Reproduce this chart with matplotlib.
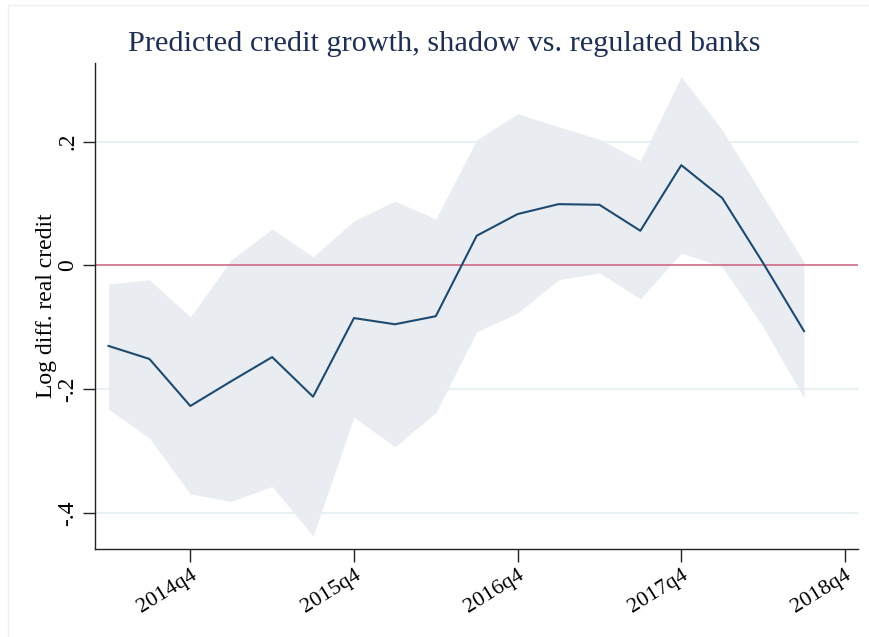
import matplotlib
matplotlib.use("Agg")
import matplotlib.pyplot as plt
from matplotlib.lines import Line2D

# Quarter index: 0 = 2014q4
quarters = ["2014q2", "2014q3", "2014q4", "2015q1", "2015q2", "2015q3", "2015q4",
            "2016q1", "2016q2", "2016q3", "2016q4", "2017q1", "2017q2", "2017q3",
            "2017q4", "2018q1", "2018q2", "2018q3"]
t = list(range(-2, 16))

predicted = [-0.130, -0.151, -0.227, -0.187, -0.148, -0.212, -0.085, -0.095, -0.082,
             0.048, 0.083, 0.099, 0.098, 0.056, 0.162, 0.109, 0.004, -0.106]
upper_ci = [-0.030, -0.023, -0.083, 0.009, 0.059, 0.014, 0.072, 0.104, 0.075,
            0.203, 0.245, 0.224, 0.204, 0.169, 0.305, 0.219, 0.112, 0.006]
lower_ci = [-0.232, -0.279, -0.369, -0.381, -0.357, -0.437, -0.245, -0.293, -0.238,
            -0.107, -0.077, -0.023, -0.012, -0.054, 0.020, -0.002, -0.099, -0.214]

xtick_pos = [0, 4, 8, 12, 16]
xtick_labels = ["2014q4", "2015q4", "2016q4", "2017q4", "2018q4"]
ytick_pos = [-0.4, -0.2, 0.0, 0.2]
ytick_labels = ["-.4", "-.2", "0", ".2"]

serif = ["Liberation Serif", "DejaVu Serif"]
plt.rcParams["font.family"] = serif

fig = plt.figure(figsize=(8.7, 6.37), dpi=100)
ax = fig.add_axes([95 / 870, 1 - 549 / 637, (858 - 95) / 870, (549 - 63) / 637])

ax.fill_between(t, lower_ci, upper_ci, color="#e9edf1", linewidth=0, zorder=1)
for y in [-0.4, -0.2, 0.2]:
    ax.axhline(y, color="#e3eef1", linewidth=1.2, zorder=0.5)
ax.axhline(0, color="#cf6b85", linewidth=1.2, zorder=2)
ax.plot(t, predicted, color="#1f4a70", linewidth=1.5, zorder=3)

ax.set_xlim(-2.33, 16.32)
ax.set_ylim(-0.458, 0.327)

for s in ["top", "right"]:
    ax.spines[s].set_visible(False)
for s in ["left", "bottom"]:
    ax.spines[s].set_linewidth(1.0)
    ax.spines[s].set_color("#222222")

ax.set_xticks(xtick_pos)
ax.set_xticklabels(xtick_labels, rotation=32, ha="right", va="top",
                   rotation_mode="anchor", fontsize=16)
ax.set_yticks(ytick_pos)
ax.set_yticklabels(ytick_labels, rotation=90, va="center", fontsize=17)
ax.tick_params(axis="both", length=9, width=1.0, color="#222222")
ax.tick_params(axis="x", pad=3)
ax.tick_params(axis="y", pad=3)

ax.set_ylabel("Log diff. real credit", fontsize=17, labelpad=0.5)

fig.text(444 / 870, 1 - 44 / 637, "Predicted credit growth, shadow vs. regulated banks",
         ha="center", va="center", fontsize=21.8, color="#1e2f52")

# faint outer border of graph region
fig.add_artist(Line2D([8 / 870, 8 / 870], [0, 1 - 5 / 637], transform=fig.transFigure,
                      color="#eef0f0", linewidth=1.0))
fig.add_artist(Line2D([8 / 870, 1], [1 - 5 / 637, 1 - 5 / 637], transform=fig.transFigure,
                      color="#eef0f0", linewidth=1.0))

fig.savefig("out.png", dpi=100)
